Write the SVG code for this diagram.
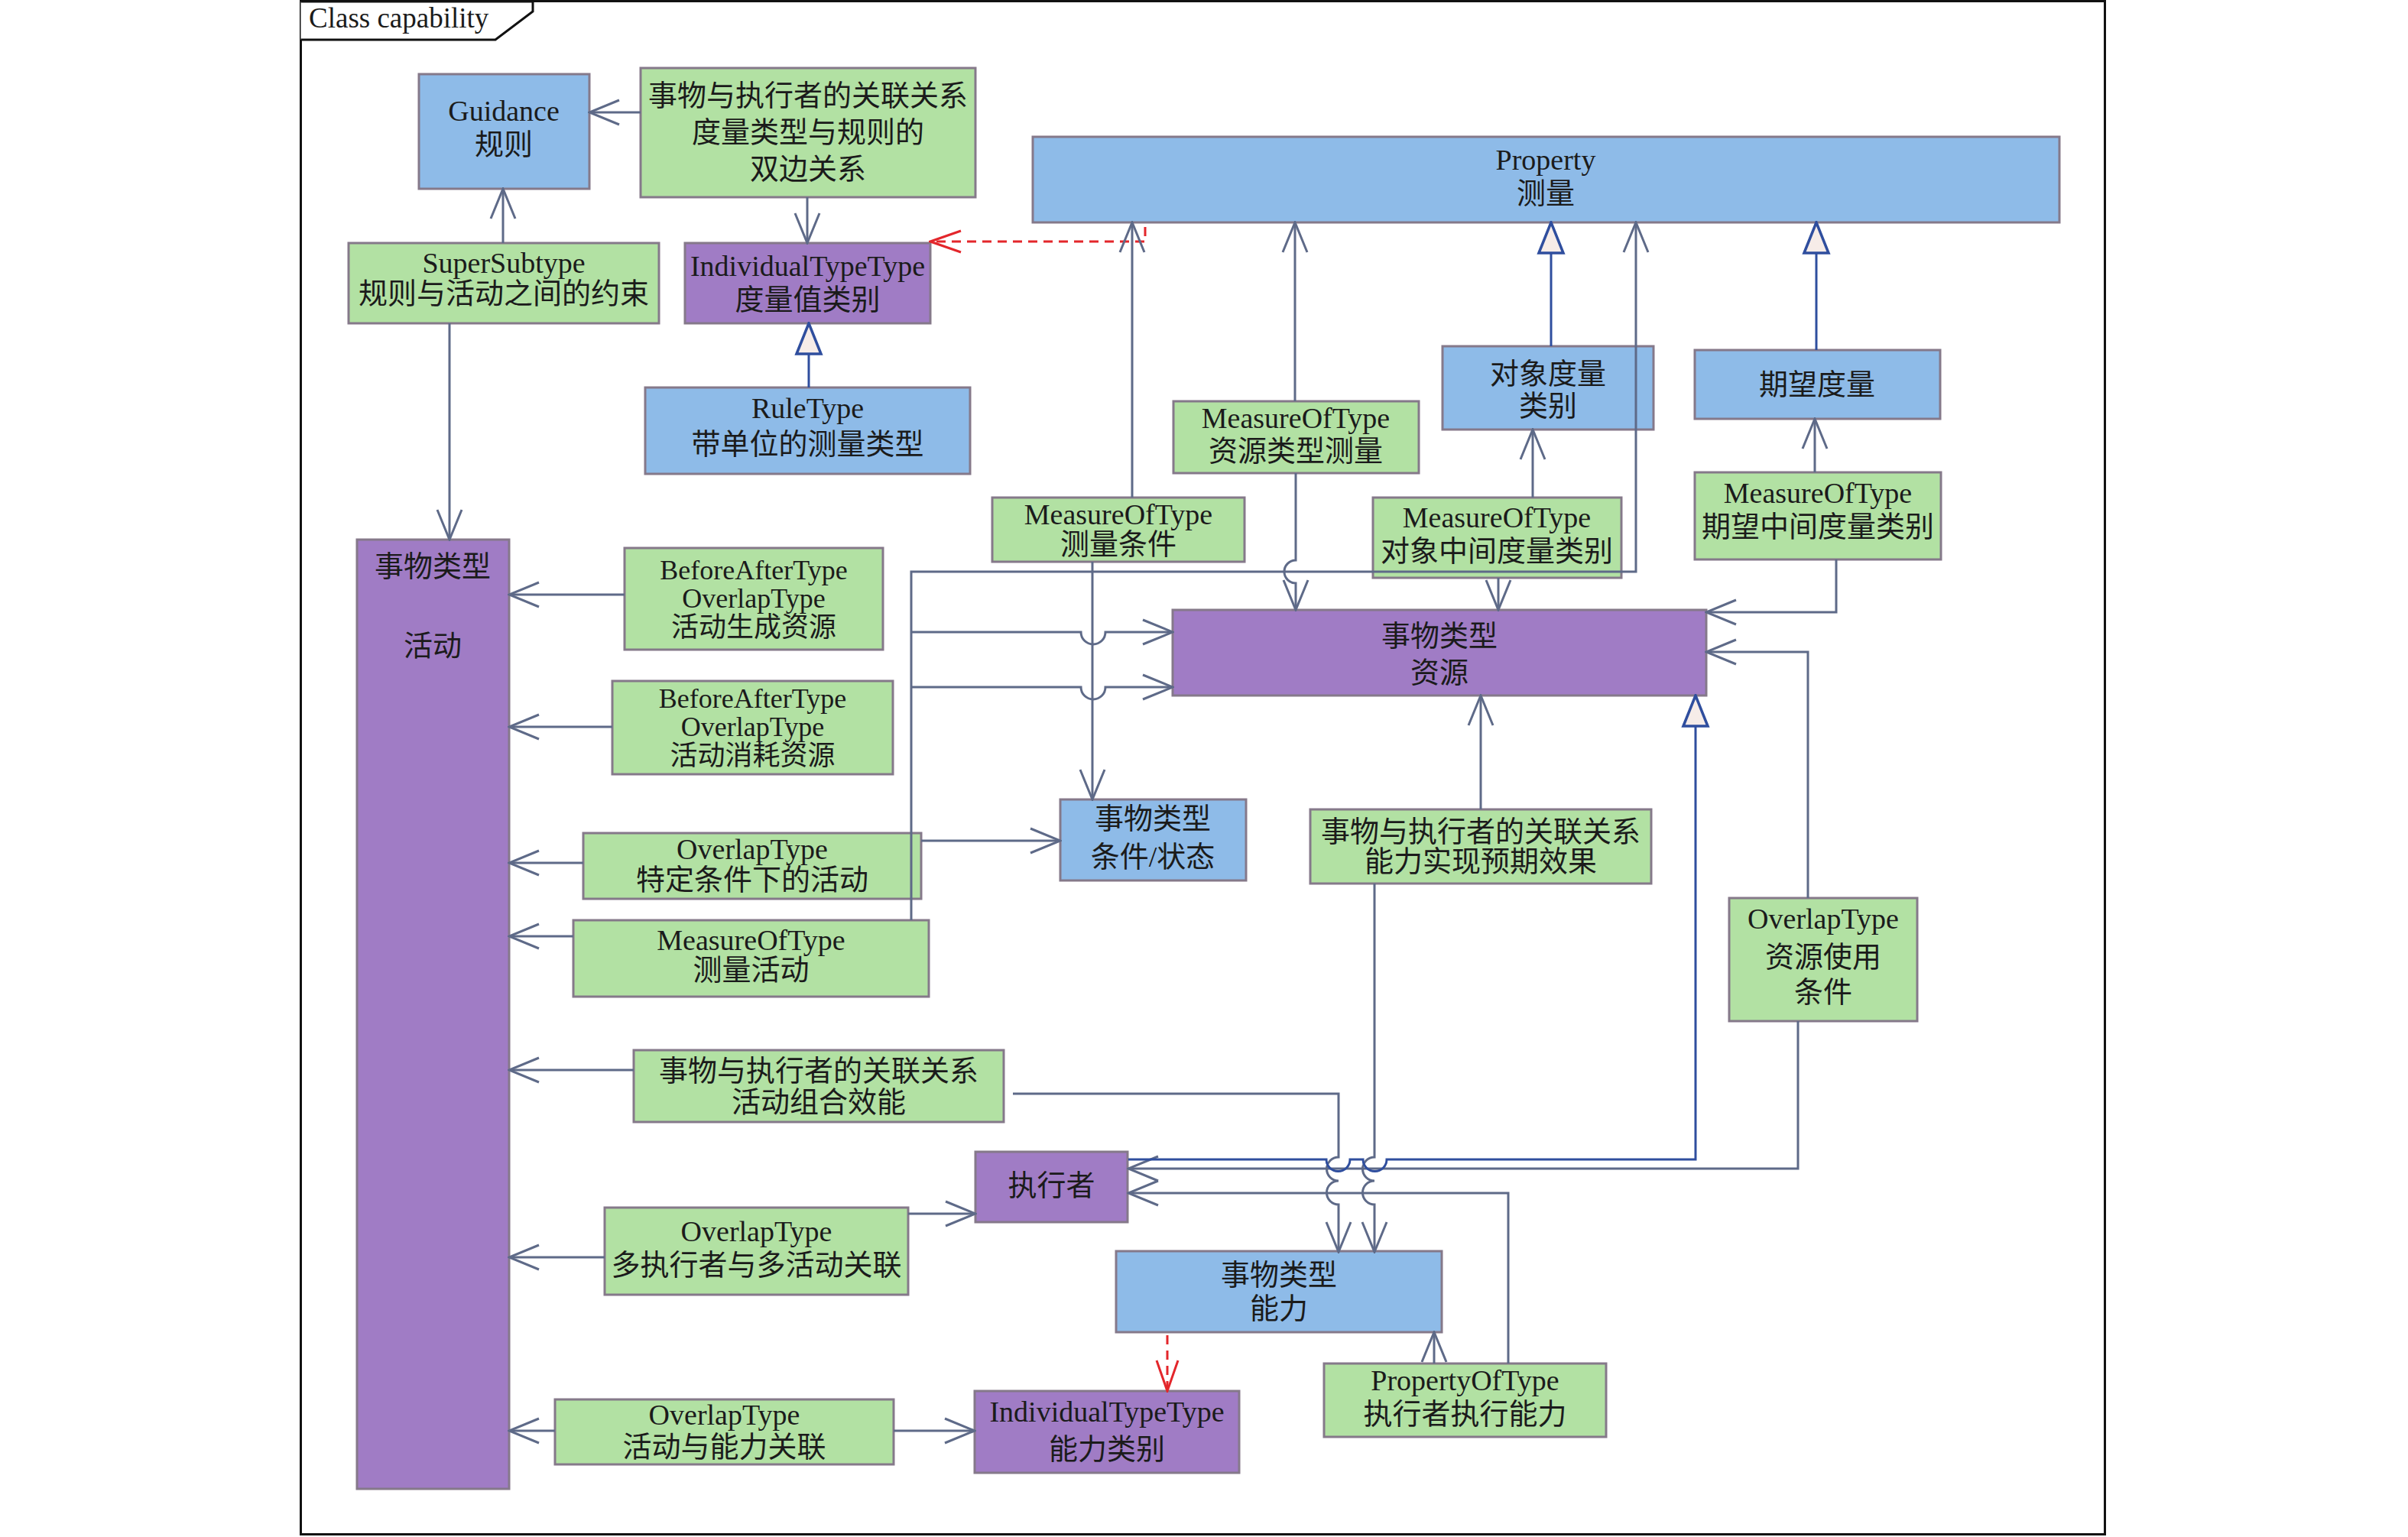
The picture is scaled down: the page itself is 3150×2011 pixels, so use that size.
<svg xmlns="http://www.w3.org/2000/svg" width="3150" height="2011" viewBox="0 0 3150 2011">
<style>
.bx{stroke:#85798A;stroke-width:3}
.blue{fill:#8EBBE8}
.green{fill:#B2E1A3}
.purple{fill:#A07CC5}
.t{font-family:"Liberation Serif","Noto Sans CJK SC",serif;font-size:38px;fill:#1b1b1b;text-anchor:middle}
.s{font-size:36px}
.c{fill:none;stroke:#5E6A88;stroke-width:3}
.g{fill:none;stroke:#2F4E9E;stroke-width:3}
.r{fill:none;stroke:#E3262B;stroke-width:3;stroke-dasharray:12 8}
</style>
<defs>
<marker id="open" viewBox="-42 -18 44 36" markerWidth="44" markerHeight="36" refX="0" refY="0" orient="auto" markerUnits="userSpaceOnUse">
<path d="M-39,-16 L0,0 L-39,16" fill="none" stroke="#5E6A88" stroke-width="3"/>
</marker>
<marker id="red" viewBox="-42 -18 44 36" markerWidth="44" markerHeight="36" refX="0" refY="0" orient="auto" markerUnits="userSpaceOnUse">
<path d="M-40,-14 L0,0 L-40,14" fill="none" stroke="#E3262B" stroke-width="3"/>
</marker>
<marker id="tri" viewBox="-44 -20 46 40" markerWidth="46" markerHeight="40" refX="0" refY="0" orient="auto" markerUnits="userSpaceOnUse">
<path d="M-40,-16 L0,0 L-40,16 Z" fill="#F6ECE8" stroke="#2F4E9E" stroke-width="3.5"/>
</marker>
</defs>
<rect x="0" y="0" width="3150" height="2011" fill="#ffffff"/>
<g id="frame">
<rect x="393.5" y="1.5" width="2360" height="2006" fill="none" stroke="#111" stroke-width="3"/>
<path d="M393.5,2 H697 V15 L648,52 H393.5" fill="#fff" stroke="#111" stroke-width="3"/>
<text x="404" y="36" style="font-family:'Liberation Serif',serif;font-size:37px;fill:#1b1b1b">Class capability</text>
</g>
<g id="nodes">
<g id="n-guidance"><rect class="bx blue" x="548" y="97" width="223" height="150"/><text class="t" x="659" y="158">Guidance</text><text class="t" x="659" y="202">规则</text></g>
<g id="n-bilateral"><rect class="bx green" x="838" y="89" width="438" height="169"/><text class="t" x="1057" y="138">事物与执行者的关联关系</text><text class="t" x="1057" y="186">度量类型与规则的</text><text class="t" x="1057" y="234">双边关系</text></g>
<g id="n-supersub"><rect class="bx green" x="456" y="318" width="406" height="105"/><text class="t" x="659" y="357">SuperSubtype</text><text class="t" x="659" y="397">规则与活动之间的约束</text></g>
<g id="n-itt1"><rect class="bx purple" x="896" y="318" width="321" height="105"/><text class="t" x="1056.5" y="361">IndividualTypeType</text><text class="t" x="1056.5" y="405">度量值类别</text></g>
<g id="n-ruletype"><rect class="bx blue" x="844" y="507" width="425" height="113"/><text class="t" x="1056.5" y="547">RuleType</text><text class="t" x="1056.5" y="594">带单位的测量类型</text></g>
<g id="n-property"><rect class="bx blue" x="1351" y="179" width="1343" height="112"/><text class="t" x="2022" y="222">Property</text><text class="t" x="2022" y="266">测量</text></g>
<g id="n-objmeasure"><rect class="bx blue" x="1887" y="453" width="276" height="109"/><text class="t" x="2025" y="502">对象度量</text><text class="t" x="2025" y="544">类别</text></g>
<g id="n-expmeasure"><rect class="bx blue" x="2217" y="458" width="321" height="90"/><text class="t" x="2377" y="516">期望度量</text></g>
<g id="n-mot-res"><rect class="bx green" x="1535" y="525" width="321" height="94"/><text class="t" x="1695" y="560">MeasureOfType</text><text class="t" x="1695" y="603">资源类型测量</text></g>
<g id="n-mot-cond"><rect class="bx green" x="1298" y="651" width="330" height="84"/><text class="t" x="1463" y="686">MeasureOfType</text><text class="t" x="1463" y="725">测量条件</text></g>
<g id="n-mot-obj"><rect class="bx green" x="1796" y="651" width="325" height="105"/><text class="t" x="1958" y="690">MeasureOfType</text><text class="t" x="1958" y="734">对象中间度量类别</text></g>
<g id="n-mot-exp"><rect class="bx green" x="2217" y="618" width="322" height="114"/><text class="t" x="2378" y="658">MeasureOfType</text><text class="t" x="2378" y="702">期望中间度量类别</text></g>
<g id="n-resource"><rect class="bx purple" x="1534" y="798" width="698" height="112"/><text class="t" x="1883" y="845">事物类型</text><text class="t" x="1883" y="893">资源</text></g>
<g id="n-activity"><rect class="bx purple" x="467" y="706" width="199" height="1242"/><text class="t" x="566" y="754">事物类型</text><text class="t" x="566" y="858">活动</text></g>
<g id="n-produce"><rect class="bx green" x="817" y="717" width="338" height="133"/><text class="t s" x="986" y="758">BeforeAfterType</text><text class="t s" x="986" y="795">OverlapType</text><text class="t s" x="986" y="833">活动生成资源</text></g>
<g id="n-consume"><rect class="bx green" x="801" y="891" width="367" height="122"/><text class="t s" x="984.5" y="926">BeforeAfterType</text><text class="t s" x="984.5" y="963">OverlapType</text><text class="t s" x="984.5" y="1001">活动消耗资源</text></g>
<g id="n-condact"><rect class="bx green" x="763" y="1090" width="442" height="86"/><text class="t" x="984" y="1124">OverlapType</text><text class="t" x="984" y="1164">特定条件下的活动</text></g>
<g id="n-measact"><rect class="bx green" x="750" y="1204" width="465" height="100"/><text class="t" x="982.5" y="1243">MeasureOfType</text><text class="t" x="982.5" y="1282">测量活动</text></g>
<g id="n-condition"><rect class="bx blue" x="1387" y="1046" width="243" height="106"/><text class="t" x="1508" y="1084">事物类型</text><text class="t" x="1508" y="1134">条件/状态</text></g>
<g id="n-effect"><rect class="bx green" x="1714" y="1059" width="446" height="97"/><text class="t" x="1937" y="1101">事物与执行者的关联关系</text><text class="t" x="1937" y="1140">能力实现预期效果</text></g>
<g id="n-resuse"><rect class="bx green" x="2262" y="1175" width="246" height="161"/><text class="t" x="2385" y="1215">OverlapType</text><text class="t" x="2385" y="1265">资源使用</text><text class="t" x="2385" y="1311">条件</text></g>
<g id="n-combo"><rect class="bx green" x="829" y="1374" width="484" height="94"/><text class="t" x="1071" y="1414">事物与执行者的关联关系</text><text class="t" x="1071" y="1455">活动组合效能</text></g>
<g id="n-performer"><rect class="bx purple" x="1276" y="1507" width="199" height="92"/><text class="t" x="1375.5" y="1564">执行者</text></g>
<g id="n-multi"><rect class="bx green" x="791" y="1580" width="397" height="114"/><text class="t" x="989.5" y="1624">OverlapType</text><text class="t" x="989.5" y="1668">多执行者与多活动关联</text></g>
<g id="n-actcap"><rect class="bx green" x="726" y="1831" width="443" height="85"/><text class="t" x="947.5" y="1864">OverlapType</text><text class="t" x="947.5" y="1906">活动与能力关联</text></g>
<g id="n-itt2"><rect class="bx purple" x="1275" y="1820" width="346" height="107"/><text class="t" x="1448" y="1860">IndividualTypeType</text><text class="t" x="1448" y="1909">能力类别</text></g>
<g id="n-capability"><rect class="bx blue" x="1460" y="1637" width="426" height="106"/><text class="t" x="1673" y="1681">事物类型</text><text class="t" x="1673" y="1725">能力</text></g>
<g id="n-propoftype"><rect class="bx green" x="1732" y="1784" width="369" height="96"/><text class="t" x="1916.5" y="1819">PropertyOfType</text><text class="t" x="1916.5" y="1863">执行者执行能力</text></g>
</g>
<g id="connectors">
<path class="c" d="M838,147 H771" marker-end="url(#open)"/>
<path class="c" d="M1056,258 V318" marker-end="url(#open)"/>
<path class="c" d="M658,318 V247" marker-end="url(#open)"/>
<path class="c" d="M588,423 V706" marker-end="url(#open)"/>
<path class="g" d="M1058,507 V423" marker-end="url(#tri)"/>
<path class="r" d="M1498,297 V316 H1217" marker-end="url(#red)"/>
<path class="c" d="M1481,651 V291" marker-end="url(#open)"/>
<path class="c" d="M1694,525 V291" marker-end="url(#open)"/>
<path class="g" d="M2029,453 V291" marker-end="url(#tri)"/>
<path class="g" d="M2376,458 V291" marker-end="url(#tri)"/>
<path class="c" d="M1192,1204 V748 H2140 V291" marker-end="url(#open)"/>
<path class="c" d="M1192,827 H1414 A16,16 0 0 0 1446,827 H1534" marker-end="url(#open)"/>
<path class="c" d="M1192,899 H1414 A16,16 0 0 0 1446,899 H1534" marker-end="url(#open)"/>
<path class="c" d="M1695,619 V733 A15,15 0 0 0 1695,763 V798" marker-end="url(#open)"/>
<path class="c" d="M2005,651 V562" marker-end="url(#open)"/>
<path class="c" d="M1960,756 V798" marker-end="url(#open)"/>
<path class="c" d="M2374,618 V548" marker-end="url(#open)"/>
<path class="c" d="M2402,732 V801 H2232" marker-end="url(#open)"/>
<path class="c" d="M2365,1175 V853 H2232" marker-end="url(#open)"/>
<path class="c" d="M2352,1336 V1529 H1476" marker-end="url(#open)"/>
<path class="c" d="M1937,1059 V910" marker-end="url(#open)"/>
<path class="c" d="M1798,1156 V1514 A15.5,15.5 0 0 0 1798,1545 A15.5,15.5 0 0 0 1798,1576 V1638" marker-end="url(#open)"/>
<path class="c" d="M1325,1431 H1751 V1514 A15.5,15.5 0 0 0 1751,1545 A15.5,15.5 0 0 0 1751,1576 V1638" marker-end="url(#open)"/>
<path class="g" d="M1476,1517 H1735 A15.5,15.5 0 0 0 1766,1517 H1783 A15.5,15.5 0 0 0 1814,1517 H2218 V910" marker-end="url(#tri)"/>
<path class="c" d="M1876,1784 V1743" marker-end="url(#open)"/>
<path class="c" d="M1973,1784 V1561 H1476" marker-end="url(#open)"/>
<path class="r" d="M1527,1747 V1820" marker-end="url(#red)"/>
<path class="c" d="M817,778 H666" marker-end="url(#open)"/>
<path class="c" d="M801,951 H666" marker-end="url(#open)"/>
<path class="c" d="M763,1129 H666" marker-end="url(#open)"/>
<path class="c" d="M1205,1100 H1387" marker-end="url(#open)"/>
<path class="c" d="M750,1225 H666" marker-end="url(#open)"/>
<path class="c" d="M1429,735 V1046" marker-end="url(#open)"/>
<path class="c" d="M829,1400 H666" marker-end="url(#open)"/>
<path class="c" d="M791,1645 H666" marker-end="url(#open)"/>
<path class="c" d="M1188,1588 H1276" marker-end="url(#open)"/>
<path class="c" d="M726,1872 H666" marker-end="url(#open)"/>
<path class="c" d="M1169,1872 H1275" marker-end="url(#open)"/>
</g>
</svg>
